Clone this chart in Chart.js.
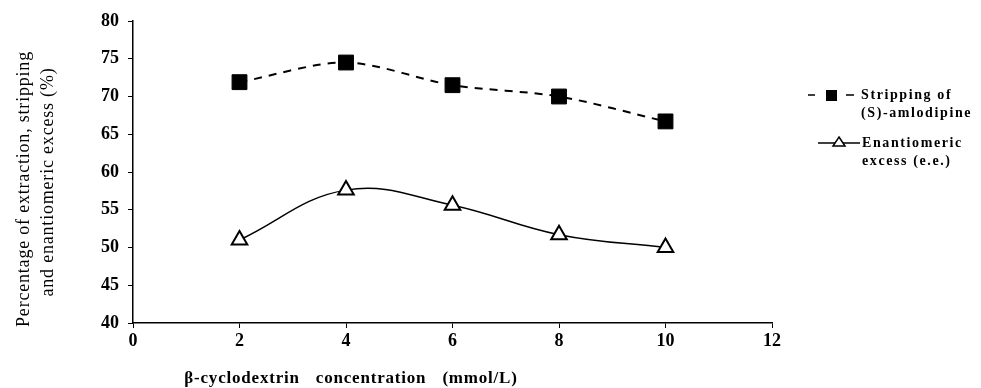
<!DOCTYPE html>
<html>
<head>
<meta charset="utf-8">
<script src="https://cdn.jsdelivr.net/npm/chart.js@4"></script>
<style>
  html, body { margin: 0; padding: 0; background: #fff; }
  #wrap { position: relative; width: 981px; height: 388px; font-family: "Liberation Serif", "Times New Roman", serif; color: #000; }
  #c { position: absolute; left: 0; top: 0; }
  .ytitle { position: absolute; white-space: nowrap; font-size: 18px; letter-spacing: 0.8px; transform: translate(-50%, -50%) rotate(-90deg); }
  #xtitle { position: absolute; left: 351px; top: 378px; transform: translate(-50%, -50%); white-space: nowrap;
            font-size: 17px; font-weight: bold; letter-spacing: 0.8px; word-spacing: 11px; }
  .leg { position: absolute; font-size: 14px; font-weight: bold; letter-spacing: 1.6px; line-height: 18px; white-space: nowrap; }
</style>
</head>
<body>
<div id="wrap">
  <canvas id="c" width="981" height="388"></canvas>
  <div class="ytitle" style="left:23px; top:189px">Percentage of extraction, stripping</div>
  <div class="ytitle" style="left:47px; top:182px">and enantiomeric excess (%)</div>
  <div id="xtitle">β-cyclodextrin concentration (mmol/L)</div>
  <div class="leg" style="left:861px; top:86px">Stripping of<br>(S)-amlodipine</div>
  <div class="leg" style="left:862px; top:134px">Enantiomeric<br>excess (e.e.)</div>
</div>
<script>
// beta-cyclodextrin concentration (mmol/L)
const conc = [2, 4, 6, 8, 10];
// % stripping of (S)-amlodipine
const stripping = [71.9, 74.5, 71.5, 70.0, 66.7];
// enantiomeric excess (%)
const eeValues = [51.0, 57.6, 55.6, 51.7, 50.0];
const xTicks = [0, 2, 4, 6, 8, 10, 12];
const yTicks = [40, 45, 50, 55, 60, 65, 70, 75, 80];
const legendNames = ["Stripping of (S)-amlodipine", "Enantiomeric excess (e.e.)"];

const pts = vals => conc.map((x, i) => ({ x, y: vals[i] }));

// legend samples drawn on the same canvas (line + marker), text sits in html
const legendSamples = {
  id: "legendSamples",
  afterDraw(chart) {
    const ctx = chart.ctx;
    ctx.save();
    ctx.strokeStyle = "#000";
    ctx.lineWidth = 1.5;
    // stripping: dashed with filled square
    ctx.beginPath();
    ctx.moveTo(808, 95); ctx.lineTo(815, 95);
    ctx.moveTo(846, 95); ctx.lineTo(854, 95);
    ctx.stroke();
    ctx.fillStyle = "#000";
    ctx.fillRect(826, 90, 11, 11);
    // e.e.: solid with open triangle
    ctx.beginPath(); ctx.moveTo(818, 143); ctx.lineTo(860, 143); ctx.stroke();
    ctx.fillStyle = "#fff"; ctx.lineWidth = 1.5;
    ctx.beginPath(); ctx.moveTo(839, 137); ctx.lineTo(845, 146); ctx.lineTo(833, 146); ctx.closePath();
    ctx.fill(); ctx.stroke();
    ctx.restore();
  },
};

const tickFont = { family: "'Liberation Serif', 'Times New Roman', serif", size: 18, weight: "bold" };

new Chart(document.getElementById("c"), {
  type: "line",
  data: {
    datasets: [
      { label: legendNames[0], data: pts(stripping), borderColor: "#000", borderWidth: 2, borderDash: [8, 7],
        tension: 0.3, pointStyle: "rect", pointRadius: 10.5, pointBackgroundColor: "#000", pointBorderColor: "#000", pointBorderWidth: 1 },
      { label: legendNames[1], data: pts(eeValues), borderColor: "#000", borderWidth: 1.5,
        tension: 0.4, pointStyle: "triangle", pointRadius: 9, pointBackgroundColor: "#fff", pointBorderColor: "#000", pointBorderWidth: 2 },
    ],
  },
  options: {
    responsive: false, animation: false,
    layout: { padding: { top: 21, right: 209, left: 0, bottom: 0 } },
    plugins: { legend: { display: false }, tooltip: { enabled: false } },
    scales: {
      x: {
        type: "linear", min: 0, max: 12,
        afterBuildTicks: s => { s.ticks = xTicks.map(v => ({ value: v })); },
        afterFit: s => { s.height = 65; },
        border: { display: true, color: "#000", width: 1.5 },
        grid: { drawOnChartArea: false, drawTicks: true, tickLength: 5, color: "#000" },
        ticks: { color: "#000", font: tickFont, padding: 3 },
      },
      y: {
        min: 40, max: 80,
        afterBuildTicks: s => { s.ticks = yTicks.map(v => ({ value: v })); },
        afterFit: s => { s.width = 133; },
        border: { display: true, color: "#000", width: 1.5 },
        grid: { drawOnChartArea: false, drawTicks: true, tickLength: 5, color: "#000" },
        ticks: { color: "#000", font: tickFont, padding: 9 },
      },
    },
  },
  plugins: [legendSamples],
});
</script>
</body>
</html>
